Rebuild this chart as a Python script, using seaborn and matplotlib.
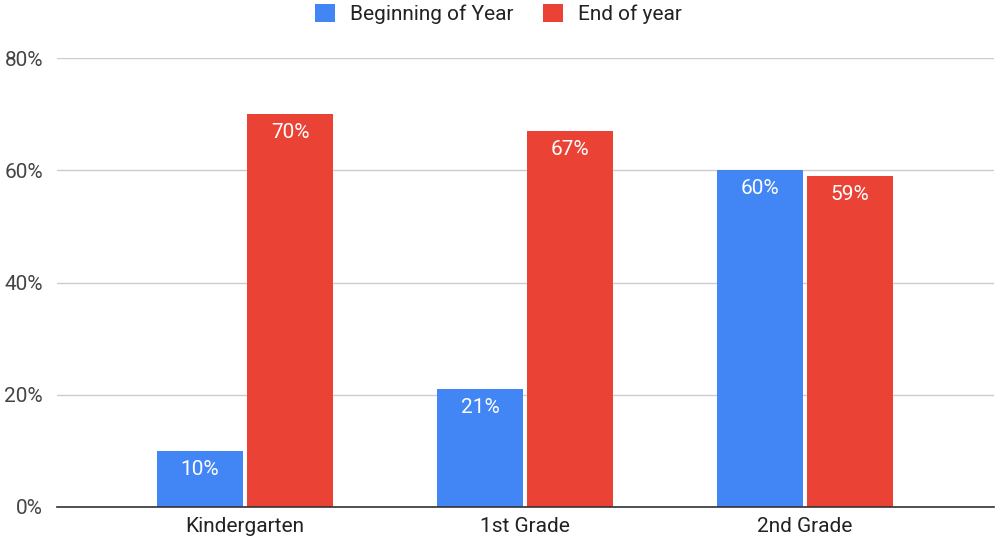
import matplotlib
matplotlib.use("Agg")
import matplotlib.pyplot as plt
import seaborn as sns
import pandas as pd
from matplotlib.ticker import PercentFormatter
from matplotlib.patches import Patch

grades = ["Kindergarten", "1st Grade", "2nd Grade"]
series = ["Beginning of Year", "End of year"]
beginning = [0.10, 0.21, 0.60]
end = [0.70, 0.67, 0.59]
yticks = [0, 0.2, 0.4, 0.6, 0.8]
colors = ["#4285F4", "#EA4335"]

df = pd.DataFrame({
    "grade": grades * 2,
    "period": [series[0]] * 3 + [series[1]] * 3,
    "value": beginning + end,
})

sns.set_theme(style="white")
plt.rcParams["font.family"] = ["Roboto", "DejaVu Sans"]

fig = plt.figure(figsize=(9.97, 5.5), dpi=100)
ax = fig.add_axes([57 / 997, 1 - 507 / 550, (994 - 57) / 997, (507 - 58) / 550])

sns.barplot(data=df, x="grade", y="value", hue="period", hue_order=series,
            palette=colors, width=0.643, gap=0.035, saturation=1, ax=ax,
            legend=False, edgecolor="none", linewidth=0)

ax.set_xlim(-188 / 280, 2 + 189 / 280)
ax.set_ylim(0, 0.8)
ax.set_yticks(yticks)
ax.yaxis.set_major_formatter(PercentFormatter(1.0, decimals=0))
ax.grid(axis="y", color="#cccccc", linewidth=1)
ax.set_axisbelow(True)
for s in ["top", "right", "left"]:
    ax.spines[s].set_visible(False)
ax.spines["bottom"].set_color("#333333")
ax.spines["bottom"].set_linewidth(1.2)
ax.spines["bottom"].set_zorder(5)
ax.tick_params(axis="y", length=0, pad=10, labelsize=15, labelcolor="#444444")
ax.tick_params(axis="x", length=0, pad=7, labelsize=15, labelcolor="#222222")
ax.set_xlabel("")
ax.set_ylabel("")

for cont in ax.containers:
    labels = [f"{v * 100:.0f}%" for v in cont.datavalues]
    ax.bar_label(cont, labels=labels, label_type="edge", padding=-20,
                 color="white", fontsize=15)

# legend across the top
handles = [Patch(facecolor=c, edgecolor="none") for c in colors]
fig.legend(handles, series, loc="center", bbox_to_anchor=(0.5, 1 - 14 / 550),
           ncol=2, frameon=False, fontsize=15, handlelength=0.95, handleheight=0.95,
           handletextpad=0.72, columnspacing=1.45, labelcolor="#222222")

fig.savefig("out.png", dpi=100)
